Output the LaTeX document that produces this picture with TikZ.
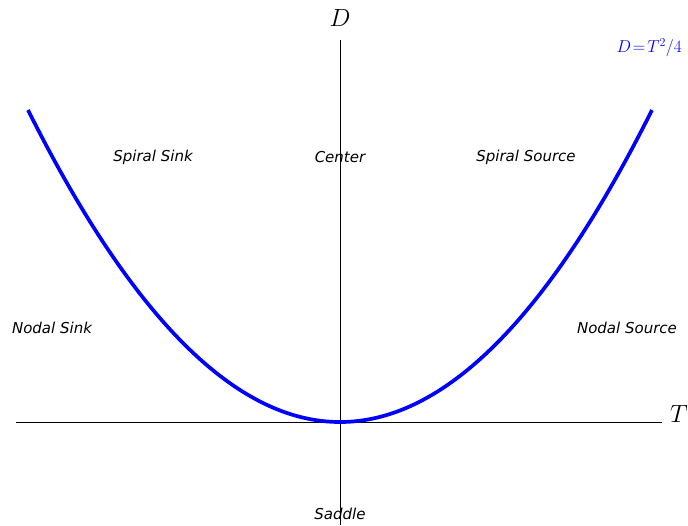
\documentclass[tikz,border=0pt]{standalone}
\usepackage{fontspec}
\newfontfamily\dvsans{DejaVu Sans}
\begin{document}
\begin{tikzpicture}[x=1pt,y=-1pt,
  region/.style={font=\dvsans\itshape\fontsize{15}{18}\selectfont, inner sep=0pt},
  axislabel/.style={font=\fontsize{25}{30}\selectfont, inner sep=0pt},
  axisline/.style={line width=0.9pt, black},
  curve/.style={line width=3.7pt, blue}]
\useasboundingbox (0,0) rectangle (688,525);
% axes
\coordinate (xl) at (16,422);
\coordinate (xr) at (662,422);
\coordinate (yt) at (340,40);
\coordinate (yb) at (340,525);
\draw[axisline] (xl) -- (xr);
\draw[axisline] (yt) -- (yb);
\node[axislabel] (dlab) at (340,18) {$D$};
\node[axislabel] (tlab) at (679,414) {$T$};
% parabola
\draw[curve, line cap=butt] plot[domain=-4:4, samples=121, smooth] ({340+78*\x},{422-19.5*\x*\x});
\node[inner sep=0pt, anchor=east, text=blue, font=\fontsize{17}{20}\selectfont] (eq) at (682,48) {$D\!=\!T^2/4$};
% regions
\node[region] (ss) at (153,157) {Spiral Sink};
\node[region] (cen) at (340,157) {Center};
\node[region] (sso) at (526,157) {Spiral Source};
\node[region] (ns) at (52,328) {Nodal Sink};
\node[region] (nso) at (627,328) {Nodal Source};
\node[region] (sad) at (340,514) {Saddle};
\end{tikzpicture}
\end{document}
